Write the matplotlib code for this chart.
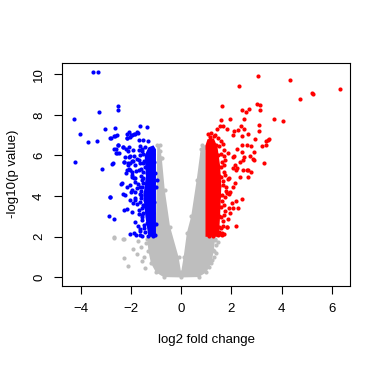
import matplotlib
matplotlib.use("Agg")
import matplotlib.pyplot as plt

plt.rcParams['font.family'] = ['Liberation Sans', 'DejaVu Sans']

# grey (non significant) cloud: outline of the dense V
v_x = [-0.95, -1.0, -1.35, -1.3, -1.2, -1.0, -0.7, 0.0, 0.7, 1.0, 1.2, 1.3, 1.35,
       1.0, 0.97, 0.85, 0.78, 0.62, 0.4, 0.23, 0.1, 0.0, -0.1, -0.44, -0.65, -0.77, -0.85]
v_y = [6.5, 2.2, 1.9, 1.3, 0.7, 0.25, 0.02, 0.0, 0.02, 0.25, 0.7, 1.3, 1.9,
       2.2, 6.4, 6.5, 6.3, 4.8, 3.0, 2.2, 1.0, 0.25, 1.0, 2.5, 4.3, 5.9, 6.5]

grey_x = [-2.65, -2.29, -2.29, -2.13, -1.76, -1.43, -1.47, -1.6, -1.55, -2.66, -2.30,
          1.35, 1.28, 1.22, 1.4, 1.32, 1.12, -0.79, -0.85, 0.82, 0.78, 0.75, 0.9,
          -1.9, -1.7, -1.4, 1.45, 1.38]
grey_y = [1.98, 1.88, 0.95, 0.54, 1.16, 0.46, 1.03, 1.5, 0.8, 1.96, 1.90,
          1.85, 1.36, 0.87, 1.6, 1.0, 0.51, 5.88, 6.2, 6.1, 5.52, 5.2, 6.4,
          1.4, 1.8, 1.7, 1.75, 1.2]

# down-regulated (blue): dense band outline + individual points
blue_core_x = [-1.0, -1.0, -1.1, -1.3, -1.45, -1.4, -1.5, -1.42, -1.3]
blue_core_y = [2.0, 6.3, 6.5, 6.4, 6.0, 5.0, 4.0, 3.0, 2.0]

blue_x = [-3.50, -3.32, -2.49, -2.51, -4.25, -3.25, -3.02, -2.62, -4.03, -3.72, -3.33,
          -1.65, -1.35, -2.82, -2.65, -2.55, -2.06, -1.97, -1.83, -1.72, -2.14, -2.49,
          -2.31, -2.19, -2.65, -2.55, -4.23, -3.15, -2.73, -2.02, -1.93, -2.26, -2.10,
          -2.39, -2.82, -2.31, -2.25, -2.86, -2.66, -2.27, -2.14, -1.93, -1.83, -2.05,
          -1.79, -2.57, -2.46, -2.02, -1.96, -2.19, -1.89, -1.83, -2.01, -1.83,
          -2.70, -2.83, -2.37, -2.77, -2.63, -2.50, -2.59, -2.30, -2.10, -2.23, -2.17,
          -2.00, -2.27, -2.13, -1.97, -2.17, -2.06, -1.97,
          -2.15, -2.02, -1.89, -1.76, -1.69, -1.50, -1.32, -2.06, -1.93, -1.69, -1.56,
          -1.43, -2.09, -1.89, -1.76, -1.63, -1.50, -1.36, -1.23, -1.10, -2.02, -1.83,
          -1.63, -1.50, -1.30, -1.16, -1.06, -1.96, -1.69, -1.50, -1.36, -1.16, -1.03,
          -1.83, -1.56, -1.30, -1.10, -0.96, -2.02, -1.63, -1.36, -1.16, -1.00,
          -2.15, -1.96, -1.76, -1.56, -1.36, -1.16, -2.02, -1.83, -1.63, -1.43, -1.23,
          -1.06, -1.96, -1.69, -1.50, -1.30, -1.10, -1.83, -1.56, -1.36, -1.16, -1.00,
          -1.89, -1.63, -1.43, -1.23, -1.03, -1.56, -1.30, -1.10,
          -1.45, -1.55, -1.48, -1.42, -1.60, -1.52, -1.45, -1.58,
          -1.62, -1.70, -1.55, -1.66, -1.74, -1.58, -1.64, -1.72, -1.52, -1.60,
          -1.68, -1.78, -1.54, -1.62, -1.57, -1.49, -1.53, -1.65, -1.59, -1.47]
blue_y = [10.13, 10.13, 8.42, 8.25, 7.81, 8.14, 7.30, 7.37, 7.04, 6.67, 6.73,
          7.47, 7.40, 6.86, 6.95, 7.03, 7.16, 7.03, 7.06, 7.13, 6.85, 6.54,
          6.42, 6.34, 6.31, 6.11, 5.69, 5.34, 5.57, 5.98, 5.75, 5.66, 5.52,
          4.59, 3.96, 4.10, 4.04, 3.02, 2.86, 3.32, 3.38, 3.65, 3.81, 2.16,
          2.09, 6.13, 6.13, 5.28, 5.03, 5.12, 4.87, 4.71, 4.19, 4.22,
          5.61, 3.97, 4.63, 6.88, 6.95, 6.50, 6.34, 6.42, 6.22, 5.93, 6.88,
          7.00, 5.66, 5.64, 5.72, 5.28, 5.33, 4.95,
          7.08, 6.91, 7.08, 7.16, 6.75, 6.75, 6.72, 6.42, 6.26, 6.26, 6.34,
          6.42, 5.93, 5.97, 5.85, 6.01, 6.06, 5.97, 6.10, 6.06, 5.61, 5.52,
          5.64, 5.61, 5.69, 5.61, 5.69, 5.20, 5.28, 5.20, 5.12, 5.20, 5.12,
          4.87, 4.79, 4.82, 4.71, 4.79, 4.54, 4.46, 4.46, 4.38, 4.43,
          4.46, 4.30, 4.38, 4.46, 4.41, 4.38, 3.81, 3.89, 3.73, 3.81, 3.89,
          3.73, 3.24, 3.32, 3.16, 3.24, 3.16, 2.75, 2.83, 2.67, 2.75, 2.62,
          2.18, 2.09, 2.25, 2.18, 2.09, 2.03, 2.02, 2.04,
          3.50, 3.05, 2.45, 4.15, 4.05, 3.55, 5.45, 4.25,
          2.30, 2.55, 2.95, 3.10, 3.60, 3.90, 4.10, 4.60, 4.90, 5.35,
          5.80, 5.25, 6.20, 6.45, 3.40, 2.60, 4.65, 2.40, 5.00, 5.75]

# up-regulated (red): dense band outline + individual points
red_core_x = [0.97, 1.5, 1.55, 1.6, 1.55, 1.45, 1.3, 1.05, 0.97]
red_core_y = [2.0, 2.0, 3.0, 4.5, 5.5, 6.4, 6.85, 6.8, 6.5]

red_x = [3.04, 2.30, 4.34, 6.30, 5.19, 5.25, 4.72, 1.64, 3.03, 3.13, 2.42, 2.58, 2.69,
         2.51, 3.13, 3.70, 4.07, 1.60, 1.94, 3.10, 1.55, 1.68, 1.84, 2.38, 2.51, 1.42,
         2.10, 2.27, 3.10, 2.67, 2.08, 2.41, 3.45, 3.50, 3.37, 2.95, 2.61, 2.78, 3.23,
         3.37, 2.41, 2.23, 2.43, 2.90, 2.12, 2.51, 2.73, 2.90, 2.33, 2.47, 3.29, 2.08,
         2.18, 2.65, 2.77, 2.87, 2.61, 2.67, 2.34, 2.47, 2.05, 2.14, 2.21, 2.15, 2.07,
         1.94, 1.81, 2.41, 2.18, 2.01, 2.08, 2.27, 2.17, 1.81, 1.61, 1.52,
         1.45, 1.55, 1.62, 1.70, 1.50, 1.58, 1.66, 1.81, 1.50, 1.60, 1.72, 1.85,
         1.48, 1.60, 1.70, 1.90, 1.50, 1.62, 1.75, 1.92, 1.50, 1.65, 1.80,
         1.50, 1.60, 1.75, 1.90, 1.48, 1.60, 1.72, 1.45, 1.58, 1.70, 1.85,
         1.40, 1.52, 1.65, 1.15, 1.30, 1.45, 1.05, 1.20, 1.35, 1.10, 1.25,
         1.66, 1.74, 1.64, 1.78, 1.68, 1.71, 1.63, 1.76, 1.69, 1.58, 1.86, 1.95]
red_y = [9.90, 9.40, 9.69, 9.25, 9.09, 9.02, 8.77, 8.43, 8.55, 8.47, 8.25, 8.14, 8.27,
         7.81, 8.22, 7.81, 7.71, 7.73, 7.81, 7.52, 7.44, 7.45, 7.32, 7.45, 7.32, 7.29,
         7.21, 7.24, 7.21, 7.08, 7.00, 6.96, 6.78, 6.83, 6.70, 6.83, 6.54, 6.47, 6.47,
         6.50, 6.50, 6.31, 6.15, 6.15, 5.98, 5.93, 5.97, 5.80, 5.69, 5.77, 5.64, 5.36,
         5.28, 5.28, 5.17, 5.85, 5.28, 4.92, 4.95, 5.28, 5.93, 5.52, 5.36, 4.63, 4.46,
         4.22, 4.14, 3.84, 3.77, 3.65, 3.40, 3.43, 2.53, 2.50, 2.18, 2.25,
         2.10, 2.12, 2.08, 2.15, 2.50, 2.45, 2.55, 2.48, 3.00, 2.95, 3.05, 2.90,
         3.50, 3.45, 3.55, 3.40, 4.00, 4.05, 3.95, 4.10, 4.50, 4.55, 4.45,
         5.00, 4.95, 5.05, 4.90, 5.50, 5.45, 5.55, 6.00, 6.05, 5.95, 6.10,
         6.50, 6.45, 6.55, 6.90, 6.95, 6.85, 7.05, 7.10, 7.00, 2.02, 2.04,
         2.80, 3.25, 3.75, 4.25, 4.75, 5.20, 5.70, 5.80, 6.25, 6.70, 4.85, 3.15]

fig = plt.figure(figsize=(3.83, 3.65), dpi=100)
ax = fig.add_axes([0.163, 0.217, 0.751, 0.611])

ax.fill(v_x, v_y, color='#BEBEBE', lw=0)
ax.scatter(v_x, v_y, s=9, c='#BEBEBE', lw=0)
ax.scatter(grey_x, grey_y, s=9, c='#BEBEBE', lw=0)

ax.fill(blue_core_x, blue_core_y, color='#0000FF', lw=0)
ax.scatter(blue_x, blue_y, s=9, c='#0000FF', lw=0)

ax.fill(red_core_x, red_core_y, color='#FF0000', lw=0)
ax.scatter(red_x, red_y, s=9, c='#FF0000', lw=0)

ax.set_xlim(-4.72, 6.72)
ax.set_ylim(-0.41, 10.56)
ax.set_xticks([-4, -2, 0, 2, 4, 6])
ax.set_yticks([0, 2, 4, 6, 8, 10])
ax.tick_params(length=5.5, width=0.8, labelsize=9.5, pad=7)
for lab in ax.get_yticklabels():
    lab.set_rotation(90)
    lab.set_va('center')
for sp in ax.spines.values():
    sp.set_linewidth(0.8)

ax.set_xlabel('log2 fold change', fontsize=9.5)
ax.set_ylabel('-log10(p value)', fontsize=9.5)
ax.xaxis.set_label_coords(0.5, -0.217)
ax.yaxis.set_label_coords(-0.152, 0.5)

fig.savefig('out.png', dpi=100)
